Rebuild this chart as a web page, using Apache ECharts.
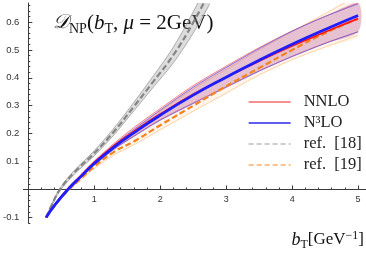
<!DOCTYPE html>
<html><head><meta charset="utf-8">
<script src="https://cdn.jsdelivr.net/npm/echarts@6/dist/echarts.min.js"></script>
<style>html,body{margin:0;padding:0;background:#fff}#c{width:366px;height:257px}</style>
</head><body><div id="c"></div>
<script>
// ---- data ----
const bT = [0.27, 0.4, 0.6, 0.8, 1.0, 1.3, 1.6, 2.0, 2.5, 3.0, 3.5, 4.0, 4.5, 5.0];
const n3loMid = [-0.100, -0.056, 0.000, 0.047, 0.093, 0.152, 0.203, 0.266, 0.338, 0.402, 0.463, 0.520, 0.573, 0.623];
const n3loLo  = [-0.100, -0.057, -0.002, 0.044, 0.088, 0.144, 0.190, 0.248, 0.308, 0.366, 0.424, 0.476, 0.523, 0.565];
const n3loHi  = [-0.100, -0.055, 0.003, 0.051, 0.098, 0.160, 0.215, 0.284, 0.366, 0.437, 0.505, 0.567, 0.620, 0.665];
const nnloMid = [-0.100, -0.055, 0.002, 0.050, 0.097, 0.157, 0.208, 0.270, 0.341, 0.402, 0.460, 0.514, 0.564, 0.612];
const nnloLo  = [-0.100, -0.056, 0.000, 0.045, 0.090, 0.146, 0.192, 0.250, 0.310, 0.368, 0.425, 0.477, 0.524, 0.565];
const nnloHi  = [-0.100, -0.054, 0.005, 0.054, 0.102, 0.165, 0.222, 0.290, 0.372, 0.442, 0.508, 0.568, 0.620, 0.668];
const ref19Mid = [-0.100, -0.058, -0.004, 0.040, 0.082, 0.135, 0.172, 0.230, 0.300, 0.370, 0.435, 0.500, 0.560, 0.612];
const ref19Lo  = [-0.100, -0.060, -0.007, 0.035, 0.075, 0.124, 0.160, 0.214, 0.280, 0.345, 0.410, 0.465, 0.510, 0.552];
const ref19Hi  = [-0.100, -0.055, 0.003, 0.050, 0.096, 0.155, 0.210, 0.280, 0.360, 0.430, 0.500, 0.565, 0.630, 0.695];
const bTref18  = [0.27, 0.35, 0.48, 0.7, 1.0, 1.3, 1.6, 1.9, 2.2, 2.5, 2.75];
const ref18Mid = [-0.100, -0.058, 0.000, 0.062, 0.130, 0.208, 0.297, 0.388, 0.482, 0.598, 0.710];
const ref18Lo  = [-0.100, -0.061, -0.005, 0.055, 0.121, 0.196, 0.282, 0.368, 0.454, 0.560, 0.665];
const ref18Hi  = [-0.100, -0.055, 0.005, 0.069, 0.139, 0.220, 0.312, 0.408, 0.510, 0.636, 0.755];
const xMajorTicks = [0, 1, 2, 3, 4, 5];
const xTickLabels = [1, 2, 3, 4, 5];
const yMajorTicks = [-0.1, 0, 0.1, 0.2, 0.3, 0.4, 0.5, 0.6];
const yTickLabels = [-0.1, 0.1, 0.2, 0.3, 0.4, 0.5, 0.6];
const legendNames = ['NNLO', 'N³LO', 'ref.  [18]', 'ref.  [19]'];

const xMinor = [], yMinor = [];
for (let i = 1; i <= 25; i++) if (i % 5) xMinor.push(+(i * 0.2).toFixed(2));
for (let i = -6; i <= 33; i++) if (i % 5) yMinor.push(+(i * 0.02).toFixed(2));

const pairs = (xs, ys) => xs.map((x, i) => [x, ys[i]]);

function band(xs, lo, hi, fill, edge, ew) {
  return {
    type: 'custom', silent: true, clip: true, data: [[xs[0], lo[0]]],
    renderItem: function (params, api) {
      const top = xs.map((x, i) => api.coord([x, hi[i]]));
      const bot = xs.map((x, i) => api.coord([x, lo[i]]));
      const poly = top.concat(bot.slice().reverse());
      return { type: 'group', children: [
        { type: 'polygon', shape: { points: poly, smooth: 0.3 }, style: { fill: fill, stroke: null } },
        { type: 'polyline', shape: { points: top, smooth: 0.3 }, style: { fill: null, stroke: edge, lineWidth: ew } },
        { type: 'polyline', shape: { points: bot, smooth: 0.3 }, style: { fill: null, stroke: edge, lineWidth: ew } }
      ] };
    }
  };
}

const serif = 'Liberation Serif';
const axisCol = '#3a3a3a';
const chart = echarts.init(document.getElementById('c'), null, { renderer: 'canvas' });
chart.setOption({
  animation: false,
  grid: { left: 18, right: 0, top: 3, bottom: 34, containLabel: false },
  xAxis: [
    { type: 'value', min: -0.075, max: 5.12, position: 'bottom',
      axisLine: { onZero: true, onZeroAxisIndex: 0, lineStyle: { color: axisCol, width: 1 } },
      axisTick: { inside: true, length: 4, customValues: xMajorTicks, lineStyle: { color: axisCol } },
      axisLabel: { customValues: xTickLabels, fontSize: 9, color: '#333', margin: -28, fontFamily: 'Liberation Sans' },
      splitLine: { show: false } },
    { type: 'value', min: -0.075, max: 5.12, position: 'bottom',
      axisLine: { show: false, onZero: true, onZeroAxisIndex: 0 },
      axisTick: { inside: true, length: 2, customValues: xMinor, lineStyle: { color: axisCol } },
      axisLabel: { show: false }, splitLine: { show: false } }
  ],
  yAxis: [
    { type: 'value', min: -0.12, max: 0.668, position: 'left',
      axisLine: { show: true, onZero: true, onZeroAxisIndex: 0, lineStyle: { color: axisCol, width: 1 } },
      axisTick: { show: true, inside: true, length: 4, customValues: yMajorTicks, lineStyle: { color: axisCol } },
      axisLabel: { customValues: yTickLabels, fontSize: 9.5, color: '#333', margin: 4, fontFamily: 'Liberation Sans' },
      splitLine: { show: false } },
    { type: 'value', min: -0.12, max: 0.668, position: 'left',
      axisLine: { show: false, onZero: true, onZeroAxisIndex: 0 },
      axisTick: { show: true, inside: true, length: 2, customValues: yMinor, lineStyle: { color: axisCol } },
      axisLabel: { show: false }, splitLine: { show: false } }
  ],
  legend: {
    left: 243, top: 87, orient: 'vertical', itemWidth: 42, itemHeight: 14, itemGap: 1,
    textStyle: { fontFamily: serif, fontSize: 16.5, color: '#222', lineHeight: 20, padding: [0, 0, 0, 8] },
    data: [
      { name: legendNames[0], lineStyle: { color: '#f26a6a', width: 1.3 }, itemStyle: { opacity: 0 } },
      { name: legendNames[1], lineStyle: { color: '#2a2ae8', width: 1.3 }, itemStyle: { opacity: 0 } },
      { name: legendNames[2], lineStyle: { color: '#bdbdbd', width: 1.3, type: [5, 3] }, itemStyle: { opacity: 0 } },
      { name: legendNames[3], lineStyle: { color: '#f5b070', width: 1.3, type: [5, 3] }, itemStyle: { opacity: 0 } }
    ]
  },
  graphic: [
    { type: 'text', x: 53, y: 23, style: {
      text: '{s|𝒟}{sub|NP}{n|(}{i|b}{sub|T}{n|, }{i|μ}{n| = 2GeV)}',
      verticalAlign: 'middle', fill: '#111',
      rich: {
        n: { fontFamily: serif, fontSize: 21 },
        s: { fontFamily: 'DejaVu Serif', fontSize: 20, fontStyle: 'italic' },
        i: { fontFamily: serif, fontSize: 21, fontStyle: 'italic' },
        sub: { fontFamily: serif, fontSize: 14, padding: [12, 0, 0, 0] }
      } } },
    { type: 'text', x: 364, y: 240, style: {
      text: '{i|b}{sub|T}{n|[GeV}{sup|−1}{n|]}',
      align: 'right', verticalAlign: 'middle', fill: '#111',
      rich: {
        n: { fontFamily: serif, fontSize: 17 },
        i: { fontFamily: serif, fontSize: 18, fontStyle: 'italic' },
        sub: { fontFamily: serif, fontSize: 12, padding: [9, 0, 0, 0] },
        sup: { fontFamily: serif, fontSize: 12, padding: [0, 0, 9, 0] }
      } } }
  ],
  series: [
    band(bTref18, ref18Lo, ref18Hi, 'rgba(150,150,150,0.32)', '#9a9a9a', 0.8),
    band(bT, ref19Lo, ref19Hi, 'rgba(255,170,90,0.12)', '#ffc080', 0.7),
    band(bT, nnloLo, nnloHi, 'rgba(220,60,100,0.18)', '#ff6a6a', 0.8),
    band(bT, n3loLo, n3loHi, 'rgba(90,60,200,0.12)', '#6a5ae0', 0.8),
    { type: 'line', name: legendNames[2], data: pairs(bTref18, ref18Mid), smooth: true, symbol: 'none',
      lineStyle: { color: '#858585', width: 2.2, type: [6, 3] }, itemStyle: { color: '#bdbdbd' } },
    { type: 'line', name: legendNames[3], data: pairs(bT, ref19Mid), smooth: true, symbol: 'none',
      lineStyle: { color: '#f5821f', width: 2.2, type: [6, 3] }, itemStyle: { color: '#f5b070' } },
    { type: 'line', name: legendNames[0], data: pairs(bT, nnloMid), smooth: true, symbol: 'none',
      lineStyle: { color: '#ff1a1a', width: 1.8 }, itemStyle: { color: '#f26a6a' } },
    { type: 'line', name: legendNames[1], data: pairs(bT, n3loMid), smooth: true, symbol: 'none',
      lineStyle: { color: '#1e1eff', width: 2.8 }, itemStyle: { color: '#2a2ae8' } }
  ]
});
</script></body></html>
